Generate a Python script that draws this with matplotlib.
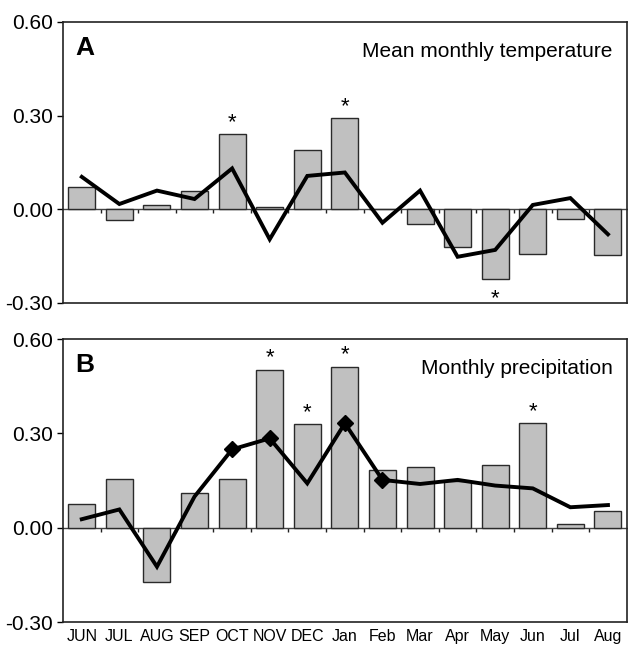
import numpy as np
import matplotlib
matplotlib.use("Agg")
import matplotlib.pyplot as plt

plt.rcParams['font.family'] = ['Liberation Sans', 'DejaVu Sans']

# datos
meses = ["JUN", "JUL", "AUG", "SEP", "OCT", "NOV", "DEC", "Jan", "Feb",
         "Mar", "Apr", "May", "Jun", "Jul", "Aug"]

temp_barras = [0.07, -0.033, 0.014, 0.06, 0.241, 0.008, 0.191, 0.292, 0.0,
               -0.048, -0.121, -0.223, -0.143, -0.03, -0.147]
temp_linea = [0.104, 0.017, 0.06, 0.033, 0.131, -0.096, 0.107, 0.118, -0.043,
              0.06, -0.152, -0.13, 0.014, 0.036, -0.08]
temp_sig = ["OCT", "Jan", "May"]

prec_barras = [0.074, 0.154, -0.172, 0.109, 0.154, 0.502, 0.329, 0.512, 0.184,
               0.192, 0.148, 0.2, 0.332, 0.011, 0.052]
prec_linea = [0.027, 0.058, -0.124, 0.099, 0.249, 0.284, 0.141, 0.332, 0.152,
              0.139, 0.152, 0.134, 0.125, 0.065, 0.072]
prec_sig = ["NOV", "DEC", "Jan", "Jun"]
prec_diamantes = ["OCT", "NOV", "Jan", "Feb"]

yticks = [-0.30, 0.00, 0.30, 0.60]

fig = plt.figure(figsize=(6.28, 6.47), dpi=100)
axA = fig.add_axes([0.1003, 0.5317, 0.8977, 0.4343])
axB = fig.add_axes([0.1003, 0.0386, 0.8977, 0.4374])

x = np.arange(len(meses))


def panel(ax, barras, linea, sig, letra, titulo, diamantes=None, etiquetas=False):
    ax.bar(x, barras, width=0.72, color="#c0c0c0", edgecolor="#2a2a2a", linewidth=1, zorder=2)
    ax.plot(x, linea, color="black", linewidth=2.8, zorder=4, solid_joinstyle="miter")
    if diamantes:
        idx = [meses.index(m) for m in diamantes]
        ax.plot(x[idx], np.array(linea)[idx], "D", color="black", markersize=8.5, zorder=5)
    for m in sig:
        i = meses.index(m)
        v = barras[i]
        off = 1 if v >= 0 else -22
        ax.annotate("*", (x[i], v), xytext=(0, off), textcoords="offset points",
                    ha="center", va="bottom", fontsize=16)
    ax.set_xlim(-0.5, len(meses) - 0.5)
    ax.set_ylim(-0.30, 0.60)
    ax.set_yticks(yticks)
    ax.set_yticklabels(["%.2f" % t for t in yticks], fontsize=15)
    ax.tick_params(axis="y", direction="out", length=4, width=1, pad=3)
    ax.set_xticks(x)
    if etiquetas:
        ax.set_xticklabels(meses, fontsize=11.5)
    else:
        ax.set_xticklabels([])
    ax.tick_params(axis="x", length=0, pad=5)
    for s in ax.spines.values():
        s.set_linewidth(1.2)
        s.set_color("#222222")
    # eje en cero con marcas entre meses
    sec = ax.secondary_xaxis(1 / 3)
    sec.set_xticks(np.arange(len(meses) - 1) + 0.5)
    sec.set_xticklabels([])
    sec.tick_params(direction="out", length=3, width=1, colors="#222222")
    sec.spines["bottom"].set_linewidth(1)
    sec.spines["bottom"].set_color("#444444")
    ax.text(0.022, 0.95, letra, transform=ax.transAxes, fontsize=19,
            fontweight="bold", va="top", ha="left")
    ax.text(0.975, 0.93, titulo, transform=ax.transAxes, fontsize=15,
            va="top", ha="right")


panel(axA, temp_barras, temp_linea, temp_sig, "A", "Mean monthly temperature")
panel(axB, prec_barras, prec_linea, prec_sig, "B", "Monthly precipitation",
      diamantes=prec_diamantes, etiquetas=True)

fig.savefig("out.png", dpi=100)
